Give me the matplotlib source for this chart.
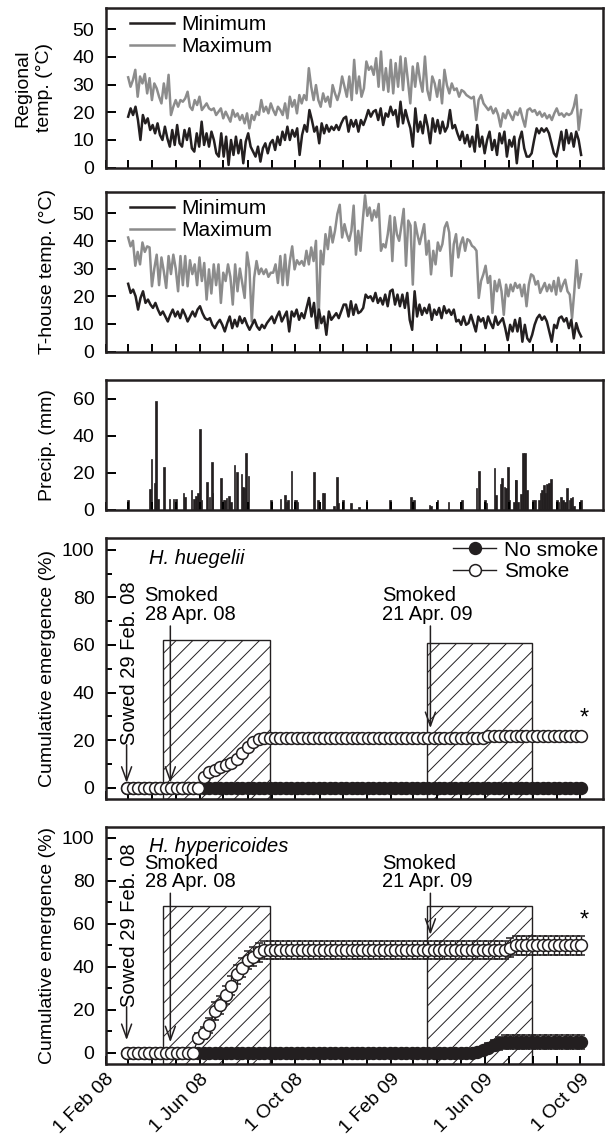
import numpy as np
import pandas as pd
import matplotlib
matplotlib.use("Agg")
import matplotlib.pyplot as plt
import matplotlib.dates as mdates
from matplotlib.patches import Rectangle

plt.rcParams["font.family"] = ["Liberation Sans", "DejaVu Sans"]
plt.rcParams["hatch.linewidth"] = 0.7

INK = "#231f20"
GREY = "#8c8c8c"
FS = 14

# =====================================================
# DATA (days counted from 1 Mar 2008)
# =====================================================
START = pd.Timestamp("2008-03-01")

# regional temperature, two halves of the record
reg_max_a = [32.6, 29.2, 31.6, 35.3, 25.6, 32.9, 30.4, 33.8, 26.8, 32.3, 24.4, 30.4, 28.6, 25.6, 23.2, 30.4,
             25, 33.5, 19, 22, 24.4, 22, 24.4, 23.8, 25, 27.4, 22, 20.8, 24.4, 22.6, 25.6, 20.8, 22, 23.2,
             21.4, 20.8, 21.4, 19, 20.2, 21.4, 17.8, 20.2, 18.4, 16.6, 20.8, 18.4, 19.6, 17.2, 19, 16, 19.6,
             14.2, 19, 17.2, 20.2, 19, 24.4, 20.2, 22, 19.6, 23.2, 20.8, 19, 22, 20.8, 19, 23.2, 17.8, 25.6,
             22, 24.4, 19.6, 26.2, 23.2, 26.2, 24.4, 35.9, 29.2, 24.4, 29.8, 24.4, 22, 26.8, 23.8, 25.6, 22,
             29.8, 26.8, 24.4, 27.4, 32.9, 29.2]
reg_max_b = [25.6, 32.9, 24.4, 38.9, 26.8, 32.9, 25.6, 28.6, 38.3, 35.3, 36.5, 33.5, 39.5, 29.2, 41.9, 28,
             35.9, 27.4, 38.9, 26.8, 37.7, 29.2, 40.1, 28, 39.5, 31.6, 23.2, 36.5, 29.2, 37.7, 31.6, 27.4,
             40.1, 28, 24.4, 32.9, 30.4, 25.6, 31.6, 23.2, 35.3, 29.8, 26.8, 30.4, 28, 28.6, 25.6, 28, 27.4,
             26.2, 25.6, 25, 25.6, 17.2, 24.4, 26.2, 23.2, 22, 20.8, 22, 19.6, 21.4, 19, 14.8, 19.6, 17.8,
             20.8, 19, 17.2, 20.2, 19, 21.4, 17.8, 14.8, 20.8, 21.4, 20.2, 20.8, 19, 20.2, 18.4, 19.6, 17.8,
             19, 17.2, 19.6, 21.4, 19, 19.6, 18.4, 19.6, 19, 19.6, 22, 26.2, 13.6, 20.8]
reg_min_a = [18.4, 21.4, 19, 22, 17.2, 10, 19, 16, 17.8, 13.6, 15.4, 12.4, 16, 11.8, 10, 14.8, 10.6, 7.6,
             13.6, 8.2, 15.4, 8.8, 7.6, 13.6, 10, 14.2, 7, 5.8, 12.4, 7.6, 16.6, 8.2, 12.4, 7.6, 13, 10, 5.2,
             4, 12.4, 4, 11.2, 1, 10, 4.6, 11.2, 5.2, 10, 1.6, 9.4, 12.4, 7.6, 5.8, 4, 7.6, 2.2, 7, 8.8, 5.2,
             8.8, 10, 6.4, 11.2, 8.2, 13, 10, 14.8, 10, 13.6, 11.2, 14.2, 4.6, 11.8, 15.4, 13, 20.8, 17.2, 13,
             14.8, 8.8, 16, 12.4, 15.4, 13, 14.8, 13.6, 15.4, 13.6, 16, 17.8]
reg_min_b = [18.4, 13, 17.2, 14.8, 17.2, 13, 17.2, 15.4, 17.8, 20.8, 18.4, 20.2, 20.8, 17.2, 21.4, 15.4,
             19.6, 18.4, 22, 19, 20.8, 14.8, 23.8, 16, 20.8, 17.2, 14.2, 7.6, 21.4, 13, 16.6, 12.4, 19, 14.8,
             8.8, 17.8, 13, 17.2, 12.4, 16.6, 13, 14.8, 20.8, 14.2, 15.4, 12.4, 10, 13, 8.8, 11.8, 7.6, 11.2,
             5.8, 15.4, 7.6, 11.2, 5.2, 10, 13, 6.4, 10, 4.6, 12.4, 8.8, 13, 4, 10, 7.6, 11.2, 1.6, 10, 13, 7,
             4, 4, 5.2, 10, 14.2, 12.4, 14.2, 13, 14.2, 12.4, 8.8, 5.2, 4, 8.2, 13, 6.4, 13.6, 8.8, 12.4, 7.6,
             13, 10, 4.6]

# tunnel-house temperature
th_max_a = [41.2, 38, 40, 31, 36, 31.5, 39.4, 36, 38, 37.6, 23.6, 30, 35, 24, 34, 29, 23, 34.5, 28, 35, 30,
            21.8, 34.5, 24, 34.5, 23.6, 33, 28, 31.5, 24, 34, 25.5, 32, 18.8, 29.7, 21, 31.5, 24, 31.5, 17.6,
            28.5, 25.5, 31.5, 27, 17, 31.5, 21.8, 30, 24.8, 19.4, 35.8, 30, 10.9, 26.7, 32.7, 28, 30, 28, 29.7,
            27, 28.5, 28.5, 31.5, 24.8, 34.5, 24, 35, 24, 32.7, 38, 29.7, 33, 31.5, 32.7, 31, 36.4, 31.5, 37.6,
            32.7, 40, 8.5, 36.4, 31.5, 42.4, 37, 45, 39.4, 43.6, 49.7, 53, 41.2, 46]
th_max_b = [42.4, 40, 43.6, 52.7, 35, 43.6, 36.4, 47.3, 56.4, 49, 52, 47.3, 51, 48.5, 53.3, 36.4, 38.8, 37.6,
            42.4, 49, 32.7, 48.5, 42.4, 40, 45.5, 51.5, 31, 47.3, 45.5, 24.2, 46.7, 42.4, 38.8, 42.4, 46, 35,
            40, 27.9, 36.4, 31.5, 39.4, 36.4, 38.8, 44.8, 46.7, 43, 27.3, 38.8, 42.4, 34, 38.8, 41.2, 36.4,
            40.6, 40, 38.2, 37.6, 36.4, 19.4, 25.5, 27.9, 31, 24.8, 27.3, 14, 25.5, 21.8, 26, 21.8, 13.3, 24.2,
            20, 24.2, 21.8, 24.8, 23, 24.2, 20, 24.2, 16.4, 24.2, 27.9, 27.3, 24.2, 25.5, 21.2, 23, 24.8, 21.8,
            24.2, 21.8, 25.5, 20.6, 26.7, 21.8, 24.2, 26, 21.8, 20.6, 12.1, 21.8, 33, 23, 27.9]
th_min_a = [24.5, 21.2, 22.4, 20, 15.2, 19.4, 21.8, 17.6, 18.8, 17, 15.8, 17.6, 15.2, 13.3, 14.5, 12.7, 10.9,
            13.3, 15.2, 12.7, 14.5, 12.1, 15.2, 13.3, 10.9, 12.7, 14.5, 12.7, 15.2, 16.4, 13.9, 12.1, 11.5,
            12.1, 9.7, 8.5, 10.3, 11.5, 9.7, 7.3, 10.3, 12.7, 8.5, 11.5, 9.1, 12.7, 10.3, 12.1, 9.7, 7.9, 9.7,
            11.5, 9.1, 7.9, 9.7, 8.5, 10.3, 11.5, 12.7, 10.3, 12.7, 14.5, 10.9, 12.7, 14.5, 7.3, 14.5, 12.7,
            15.2, 11.5, 13.9, 12.1, 15.8, 19.4, 12.7, 17.6, 8.5, 15.2, 10.3, 12.7, 6.1, 14.5, 11.5, 12.7, 13.9,
            12.1, 14.5, 17]
th_min_b = [17, 12.7, 18.2, 13.3, 17, 13.9, 14.5, 15.8, 20.6, 19.4, 20, 18.2, 21.2, 17.6, 19.4, 17, 20.6,
            16.4, 21.8, 22.4, 17, 20.6, 16.4, 20.6, 15.8, 21.2, 11.5, 7.9, 21.8, 12.7, 17, 13.3, 15.8, 13.9, 17,
            11.5, 15.2, 13.3, 15.8, 12.1, 16.4, 13.9, 15.2, 13.3, 15.2, 10.9, 11.5, 9.7, 12.7, 9.7, 10.3, 13.3,
            10.3, 7.3, 12.7, 10.9, 12.1, 8.5, 12.7, 10.3, 8.5, 12.7, 9.7, 10.9, 12.1, 8.5, 4.2, 9.7, 7.3, 11.5,
            7.3, 12.1, 3.6, 9.7, 4.8, 3.6, 6.1, 9.7, 12.1, 13.3, 11.5, 12.7, 10.9, 7.3, 3.6, 9.7, 8.5, 12.1,
            12.7, 10.9, 12.1, 8.5, 11.5, 4.8, 10.3, 7.3, 5.5]

# precipitation events
precip_days = [0, 28, 30, 34, 36, 38, 46, 53, 58, 61, 71, 73, 81, 84, 87, 89, 92, 94, 101, 104,
               107, 108, 119, 122, 124, 126, 129, 132, 136, 139, 145, 147, 149, 151, 154, 183, 195, 201, 203, 205,
               209, 213, 215, 217, 238, 243, 249, 251, 264, 267, 269, 275, 285, 296, 305, 335, 362, 366, 386, 388,
               396, 410, 427, 446, 449, 457, 459, 469, 471, 477, 479, 482, 484, 486, 488, 494, 496, 497, 499, 503,
               506, 508, 511, 518, 521, 526, 528, 530, 532, 534, 536, 539, 541, 549, 551, 554, 557, 559, 562, 565,
               567, 569, 571, 580]
precip_mm = [5.5, 11.3, 27.2, 14.3, 58.8, 6, 23, 5.7, 5.7, 5.7, 9, 7, 10.6, 6, 7.7, 9, 43.4, 5.4, 15.2, 7.2,
             26, 9.3, 17, 5.4, 5.4, 6.5, 7.5, 4.3, 24.2, 20.3, 19.2, 12.4, 11.6, 30.5, 18.3, 5.4, 5.7, 8, 4.5, 5.4,
             21, 5.4, 5.4, 4.5, 20.6, 5.4, 9, 9, 2.3, 17.6, 4, 5.4, 4, 1.6, 5.4, 5.4, 7.2, 5.4, 2.7, 2.2,
             5.4, 4.5, 5.4, 11.6, 21, 5.4, 4, 22.4, 8, 13.8, 17.4, 12.5, 11.6, 23.3, 5.4, 4.1, 16, 16, 4.1, 8.4,
             30.5, 30.5, 11, 5.4, 5.4, 5.4, 9.3, 10.7, 13.4, 9, 13.8, 14.3, 16.5, 5.4, 4.5, 7, 5.4, 4.5, 11.6, 5.4,
             6.3, 7, 2.2, 5.4]

# weekly cumulative emergence (%), first census 29 Feb 2008
weeks = pd.date_range("2008-02-29", periods=84, freq="7D")
hue_none = [0] * 84
hue_smoke = ([0] * 14 + [4.5, 6.5, 7.5, 8.5, 9.5, 10.5, 12, 14.5, 17, 19, 20.5]
             + [20.7] * 41 + [21.8] * 18)
hyp_none = [0] * 64 + [0.5, 1.5, 2.5, 3.5, 4.5] + [5.0] * 15
hyp_none_se = [0] * 64 + [0.8, 1.5, 2.0, 2.5, 3.0] + [3.3] * 15
hyp_smoke = ([0] * 13 + [7, 9.3, 13, 19.5, 22.3, 27, 31.3, 36.6, 39.7, 43.3, 44.8, 46.8]
             + [47.9] * 45 + [49] + [50.2] * 13)
hyp_smoke_se = [0] * 13 + [2.5, 3, 3.5, 4, 4.2] + [4.3] * 53 + [4.4] * 13

# hatched periods and their heights in each emergence panel
period_start = ["2008-04-14", "2009-03-19"]
period_end = ["2008-08-30", "2009-07-31"]
hue_period_top = [62, 60.7]
hyp_period_top = [68.5, 68.5]

tick_dates = ["2008-02-01", "2008-06-01", "2008-10-01", "2009-02-01", "2009-06-01", "2009-10-01"]
tick_labels = ["1 Feb 08", "1 Jun 08", "1 Oct 08", "1 Feb 09", "1 Jun 09", "1 Oct 09"]


def spread(first, second, a_end, b_start):
    days = np.concatenate([np.linspace(0, a_end, len(first)), np.linspace(b_start, 580, len(second))])
    return START + pd.to_timedelta(days, unit="D")


def dn(s):
    return mdates.date2num(pd.Timestamp(s))


# =====================================================
# FIGURE
# =====================================================
fig = plt.figure(figsize=(6.05, 11.38), dpi=100)
L, W = 0.1744, 0.8223
ax1 = fig.add_axes([L, 0.85264, W, 0.14007])
ax2 = fig.add_axes([L, 0.69095, W, 0.14007])
ax3 = fig.add_axes([L, 0.55185, W, 0.11424])
ax4 = fig.add_axes([L, 0.29754, W, 0.22961])
ax5 = fig.add_axes([L, 0.06525, W, 0.20782])
axes = [ax1, ax2, ax3, ax4, ax5]

leg_style = dict(frameon=False, fontsize=15, handlelength=2.1, handletextpad=0.35,
                 labelspacing=0.12, borderpad=0, borderaxespad=0)

# ----- temperatures -----
for ax, tmin_a, tmin_b, tmax_a, tmax_b in [(ax1, reg_min_a, reg_min_b, reg_max_a, reg_max_b),
                                           (ax2, th_min_a, th_min_b, th_max_a, th_max_b)]:
    ax.plot(spread(tmin_a, tmin_b, 276, 279), tmin_a + tmin_b, color=INK, lw=1.8, label="Minimum", zorder=3)
    ax.plot(spread(tmax_a, tmax_b, 277, 280), tmax_a + tmax_b, color=GREY, lw=1.8, label="Maximum", zorder=2)
    ax.set_ylim(0, 57.5)
    ax.set_yticks([0, 10, 20, 30, 40, 50])
    ax.legend(loc="upper left", bbox_to_anchor=(0.05, 0.955), **leg_style)

ax1.set_ylabel("Regional\ntemp. (\u00b0C)", fontsize=FS, linespacing=1.35)
ax2.set_ylabel("T-house temp. (\u00b0C)", fontsize=FS)

# ----- precipitation -----
ax3.bar(START + pd.to_timedelta(precip_days, unit="D"), precip_mm, width=2.2,
        color=INK, edgecolor=INK, linewidth=0.5)
ax3.set_ylim(0, 70)
ax3.set_yticks([0, 20, 40, 60])
ax3.set_ylabel("Precip. (mm)", fontsize=FS)

# ----- emergence -----
def emergence(ax, none, smoke, tops, none_se=None, smoke_se=None):
    for s, e, top in zip(period_start, period_end, tops):
        ax.add_patch(Rectangle((dn(s), -5), dn(e) - dn(s), top + 5, facecolor="white",
                               edgecolor=INK, hatch="//", lw=1.0, zorder=1))
    style = dict(ms=8.5, mew=1.1, lw=1, color=INK, mec=INK)
    if none_se is None:
        ax.plot(weeks, none, "-o", mfc=INK, zorder=3, label="No smoke", **style)
        ax.plot(weeks, smoke, "-o", mfc="white", zorder=4, label="Smoke", **style)
    else:
        ax.errorbar(weeks, none, yerr=none_se, fmt="-o", mfc=INK, capsize=3.2, elinewidth=1,
                    capthick=1, zorder=3, label="No smoke", **style)
        ax.errorbar(weeks, smoke, yerr=smoke_se, fmt="-o", mfc="white", capsize=3.2, elinewidth=1,
                    capthick=1, zorder=4, label="Smoke", **style)
    ax.set_ylim(-5, 105)
    ax.set_yticks([0, 20, 40, 60, 80, 100])
    ax.set_yticks([10, 30, 50, 70, 90], minor=True)
    ax.set_ylabel("Cumulative emergence (%)", fontsize=FS)


def arrow(ax, day, y_from, y_to):
    ax.annotate("", xy=(dn(day), y_to), xytext=(dn(day), y_from), zorder=6,
                arrowprops=dict(arrowstyle="->,head_length=0.55,head_width=0.2", color=INK, lw=1.1,
                                mutation_scale=18, shrinkA=0, shrinkB=0))


emergence(ax4, hue_none, hue_smoke, hue_period_top)
emergence(ax5, hyp_none, hyp_smoke, hyp_period_top, hyp_none_se, hyp_smoke_se)

ax4.legend(loc="upper right", bbox_to_anchor=(0.99, 0.99), **leg_style)

for ax, txt_y, sow_y, sow_tip, tip1, tip2, star_y, name in [
        (ax4, 69.0, 18, 2, 2, 25, 26.5, "H. huegelii"),
        (ax5, 75.3, 21.5, 6, 5, 55, 59, "H. hypericoides")]:
    ax.text(dn("2008-03-22"), txt_y, "Smoked\n28 Apr. 08", fontsize=14.5, ha="left", va="bottom",
            linespacing=0.95, zorder=7)
    ax.text(dn("2009-01-20"), txt_y, "Smoked\n21 Apr. 09", fontsize=14.5, ha="left", va="bottom",
            linespacing=0.95, zorder=7)
    arrow(ax, "2008-04-24", txt_y - 1, tip1)
    arrow(ax, "2009-03-23", txt_y - 1, tip2)
    ax.text(dn("2008-03-03"), sow_y, "Sowed 29 Feb. 08", rotation=90, fontsize=14.5,
            ha="center", va="bottom", zorder=7)
    arrow(ax, "2008-02-28", sow_y, sow_tip)
    ax.text(dn("2009-10-06"), star_y, "*", fontsize=17, ha="center", va="baseline")
    ax.text(0.0866, 0.96, name, transform=ax.transAxes, fontsize=14.5, style="italic",
            ha="left", va="top")

# ----- common axis styling -----
for ax in axes:
    ax.set_xlim(dn("2008-02-01"), dn("2009-10-30"))
    ax.set_xticks(pd.to_datetime(tick_dates))
    ax.xaxis.set_minor_locator(mdates.MonthLocator())
    ax.tick_params(axis="x", which="both", direction="in", length=6, width=1.4, labelbottom=False)
    ax.tick_params(axis="y", which="major", direction="in", length=7, width=1.4, labelsize=FS, pad=8)
    ax.tick_params(axis="y", which="minor", direction="in", length=4.5, width=1.4)
    ax.yaxis.set_label_coords(-0.10, 0.5)
    for sp in ax.spines.values():
        sp.set_linewidth(1.8)
        sp.set_color(INK)

ax1.yaxis.set_label_coords(-0.105, 0.5)
ax5.set_xticks(pd.to_datetime(tick_dates), tick_labels, rotation=45, ha="right",
               rotation_mode="anchor", fontsize=FS)
ax5.tick_params(axis="x", labelbottom=True, pad=5)

fig.savefig("out.png", dpi=100, facecolor="white")
